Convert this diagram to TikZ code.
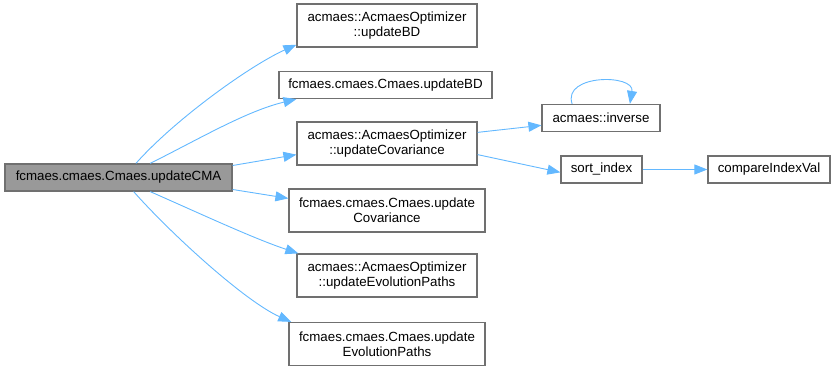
\documentclass[tikz,border=0pt]{standalone}
\usepackage{fontspec}
\setmainfont{Liberation Sans}
\usetikzlibrary{arrows.meta}
\definecolor{edgeblue}{HTML}{63B8FF}
\definecolor{boxline}{HTML}{707070}
\definecolor{mainfill}{HTML}{999999}
\begin{document}
\begin{tikzpicture}[x=1pt,y=-1pt,
  fn/.style={draw=boxline, line width=1.2pt, fill=white, inner sep=0pt,
    align=center, font=\fontsize{13.3}{15}\selectfont, text=black},
  one/.style={fn, minimum height=27},
  two/.style={fn, minimum height=43},
  call/.style={draw=edgeblue, line width=0.9pt,
    -{Triangle[length=13pt,width=10pt]}}]
\useasboundingbox (0,0) rectangle (835,371);

% caller
\node[one, fill=mainfill, minimum width=227] (main) at (118.5,177.5) {fcmaes.cmaes.Cmaes.updateCMA};

% direct callees
\node[two, minimum width=180] (abd) at (387,25.5) {acmaes::AcmaesOptimizer\\::updateBD};
\node[one, minimum width=213] (fbd) at (385.5,85) {fcmaes.cmaes.Cmaes.updateBD};
\node[two, minimum width=180] (acov) at (387,143.5) {acmaes::AcmaesOptimizer\\::updateCovariance};
\node[two, minimum width=196] (fcov) at (387,210.5) {fcmaes.cmaes.Cmaes.update\\Covariance};
\node[two, minimum width=180] (aevo) at (387,275.5) {acmaes::AcmaesOptimizer\\::updateEvolutionPaths};
\node[two, minimum width=196] (fevo) at (387,344) {fcmaes.cmaes.Cmaes.update\\EvolutionPaths};

% second level
\node[one, minimum width=118] (inv) at (601,118) {acmaes::inverse};
\node[one, minimum width=81] (sidx) at (601.5,169.5) {sort\_index};
\node[one, minimum width=122] (cmp) at (769,169.5) {compareIndexVal};

% calls
\draw[call] (main.39) .. controls +(40,-45) and +(-45,20) .. (abd.192);
\draw[call] (main.24) .. controls +(50,-25) and +(-50,12) .. (fbd.189);
\draw[call] (main.6) -- (acov.187);
\draw[call] (main.-6) -- (fcov.173);
\draw[call] (main.-24) .. controls +(50,22) and +(-45,-15) .. (aevo.166);
\draw[call] (main.-43) .. controls +(40,45) and +(-45,-20) .. (fevo.167);
\draw[call] (acov.7) -- (inv.187);
\draw[call] (acov.-7) -- (sidx.184);
\draw[call] (sidx) -- (cmp);
\draw[call] (inv.154) .. controls +(-10,-30) and +(5,-30) .. (inv.26);
\end{tikzpicture}
\end{document}
